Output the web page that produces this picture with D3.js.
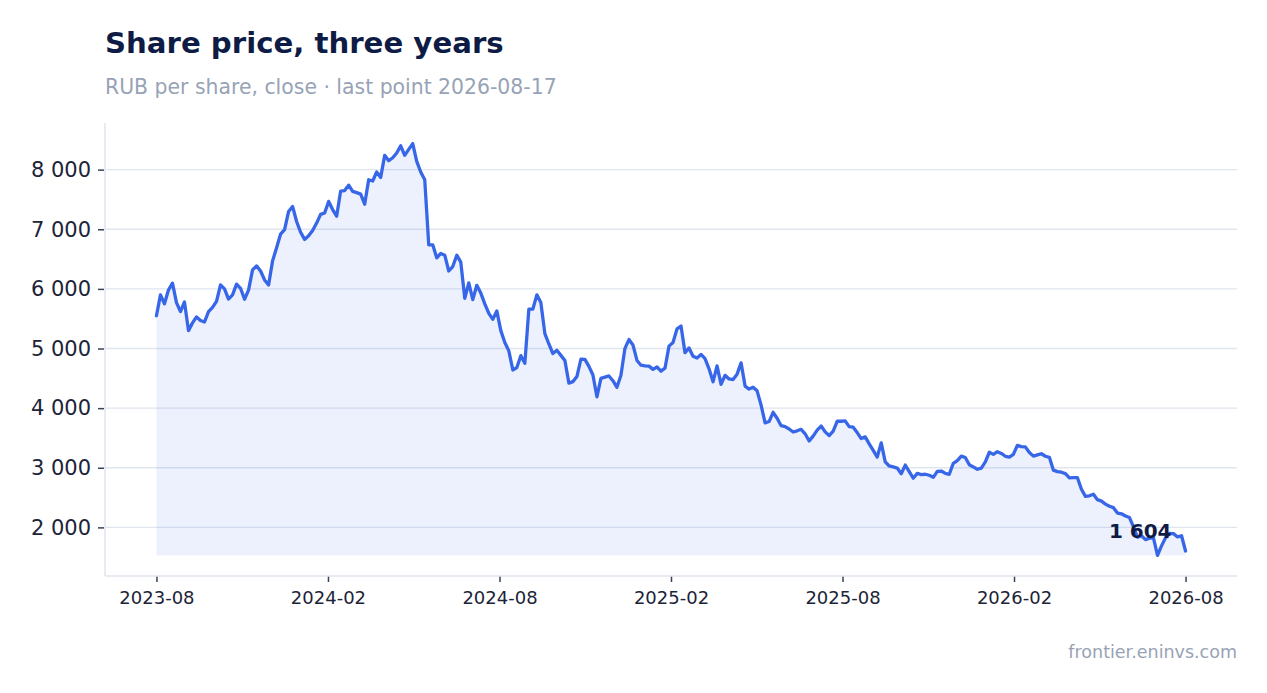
<!DOCTYPE html>
<html>
<head>
<meta charset="utf-8">
<script src="https://cdn.jsdelivr.net/npm/d3@7"></script>
<style>
  body { margin: 0; background: #fff; }
  svg { display: block; font-family: "DejaVu Sans", sans-serif; }
</style>
</head>
<body>
<div id="vis-1"></div>
<script>
// datos
const TITULO = "Share price, three years";
const SUBTITULO = "RUB per share, close · last point 2026-08-17";
const FUENTE = "frontier.eninvs.com";
const TICK_LABELS = ["2023-08", "2024-02", "2024-08", "2025-02", "2025-08", "2026-02", "2026-08"];
const Y_TICKS = [2000, 3000, 4000, 5000, 6000, 7000, 8000];
const PRICES = [
  5550, 5900, 5750, 5980, 6096, 5770, 5620, 5780, 5300, 5430,
  5530, 5470, 5445, 5620, 5690, 5790, 6067, 6000, 5830, 5900,
  6080, 6010, 5826, 5980, 6320, 6386, 6300, 6150, 6067, 6470,
  6690, 6920, 6995, 7299, 7383, 7130, 6950, 6830, 6890, 6980,
  7104, 7250, 7272, 7467, 7330, 7220, 7640, 7650, 7740, 7635,
  7615, 7590, 7420, 7830, 7810, 7960, 7870, 8240, 8150, 8200,
  8280, 8400, 8240, 8340, 8437, 8140, 7960, 7832, 6740, 6739,
  6520, 6595, 6565, 6300, 6375, 6565, 6450, 5843, 6100, 5820,
  6060, 5930, 5750, 5590, 5490, 5630, 5300, 5100, 4960, 4640,
  4680, 4880, 4751, 5660, 5660, 5900, 5770, 5250, 5076, 4915,
  4970, 4885, 4800, 4420, 4445, 4530, 4820, 4818, 4700, 4555,
  4190, 4500, 4520, 4540, 4460, 4350, 4550, 5003, 5150, 5060,
  4800, 4720, 4710, 4705, 4650, 4690, 4620, 4670, 5040, 5100,
  5330, 5378, 4930, 5010, 4870, 4840, 4900, 4830, 4660, 4442,
  4710, 4400, 4550, 4490, 4480, 4570, 4760, 4370, 4320, 4350,
  4290, 4050, 3753, 3775, 3930, 3830, 3705, 3690, 3650, 3600,
  3620, 3645, 3570, 3450, 3530, 3630, 3700, 3602, 3540, 3615,
  3780, 3780, 3787, 3690, 3680, 3590, 3490, 3518, 3400, 3290,
  3180, 3417, 3098, 3030, 3014, 2995, 2900, 3045, 2935, 2825,
  2905, 2885, 2891, 2874, 2840, 2940, 2945, 2905, 2891, 3075,
  3120, 3195, 3171, 3050, 3014, 2975, 2995, 3100, 3260, 3225,
  3270, 3240, 3193, 3180, 3225, 3375, 3355, 3350, 3255, 3195,
  3215, 3235, 3193, 3175, 2960, 2935, 2925, 2902, 2830, 2833,
  2833, 2640, 2521, 2530, 2555, 2465, 2440, 2390, 2355, 2331,
  2240, 2228, 2190, 2165, 2010, 1835, 1860, 1795, 1820, 1820,
  1530, 1690, 1825, 1900, 1895, 1840, 1860, 1604
];

const SVG1 = d3.select("#vis-1").append("svg");

const WIDTH1 = 1267;
const HEIGHT1 = 693;
const margin = {
  top: 123,
  bottom: 117,
  left: 105,
  right: 30,
};

const HEIGHTVIS1 = HEIGHT1 - margin.top - margin.bottom;
const WIDTHVIS1 = WIDTH1 - margin.right - margin.left;

const COLOR_LINEA = "#3767e8";
const COLOR_GRID = "#e0e5ee";
const COLOR_TEXTO = "#1c2438";
const COLOR_GRIS = "#97a3b6";
const COLOR_TITULO = "#0e1c45";

SVG1.attr("width", WIDTH1).attr("height", HEIGHT1);

const fmt = d3.formatLocale({ decimal: ",", thousands: " ", grouping: [3], currency: ["", ""] }).format(",.0f");

// titulos
SVG1.append("text")
  .attr("x", margin.left)
  .attr("y", 53)
  .attr("font-size", 29.2)
  .attr("font-weight", "bold")
  .attr("fill", COLOR_TITULO)
  .text(TITULO);

SVG1.append("text")
  .attr("x", margin.left)
  .attr("y", 94)
  .attr("font-size", 20.4)
  .attr("fill", COLOR_GRIS)
  .text(SUBTITULO);

SVG1.append("text")
  .attr("x", WIDTH1 - margin.right)
  .attr("y", 658)
  .attr("text-anchor", "end")
  .attr("font-size", 17.5)
  .attr("fill", COLOR_GRIS)
  .text(FUENTE);

const grafico1 = SVG1.append("g")
  .attr("id", "grafico1")
  .attr("transform", `translate(${margin.left} ${margin.top})`);

function createChart(data) {
  const n = data.length;
  const padX = (n - 1) * 0.05;
  const minimo = d3.min(data);
  const maximo = d3.max(data);
  const padY = (maximo - minimo) * 0.05;

  const escalaX = d3
    .scaleLinear()
    .domain([-padX, n - 1 + padX])
    .range([0, WIDTHVIS1]);

  const escalaY = d3
    .scaleLinear()
    .domain([minimo - padY, maximo + padY])
    .range([HEIGHTVIS1, 0]);

  // grid horizontal
  grafico1
    .append("g")
    .selectAll("line")
    .data(Y_TICKS)
    .join("line")
    .attr("x1", 0)
    .attr("x2", WIDTHVIS1)
    .attr("y1", (d) => escalaY(d))
    .attr("y2", (d) => escalaY(d))
    .attr("stroke", COLOR_GRID)
    .attr("stroke-width", 1.3);

  // ejes
  const ejeY = d3.axisLeft(escalaY)
    .tickValues(Y_TICKS)
    .tickFormat(fmt)
    .tickSize(6)
    .tickSizeOuter(0)
    .tickPadding(8);

  const posTicks = TICK_LABELS.map((_, i) => (i * (n - 1)) / (TICK_LABELS.length - 1));
  const ejeX = d3.axisBottom(escalaX)
    .tickValues(posTicks)
    .tickFormat((d, i) => TICK_LABELS[i])
    .tickSize(6)
    .tickSizeOuter(0)
    .tickPadding(9);

  const gY = grafico1.append("g").call(ejeY);
  gY.select(".domain").remove();
  gY.selectAll("line").attr("stroke", "#3a4255").attr("stroke-width", 1.5).attr("transform", "translate(-1,0)");
  gY.selectAll("text").attr("font-size", 21).attr("fill", COLOR_TEXTO).attr("font-family", "DejaVu Sans");

  const gX = grafico1.append("g")
    .attr("transform", `translate(0, ${HEIGHTVIS1})`)
    .call(ejeX);
  gX.select(".domain").remove();
  gX.selectAll("line").attr("stroke", "#3a4255").attr("stroke-width", 1.5);
  gX.selectAll("text").attr("font-size", 18).attr("fill", COLOR_TEXTO).attr("font-family", "DejaVu Sans");

  // lineas de borde
  grafico1.append("line")
    .attr("x1", 0).attr("x2", 0)
    .attr("y1", 0).attr("y2", HEIGHTVIS1)
    .attr("stroke", COLOR_GRID)
    .attr("stroke-width", 1.5);
  grafico1.append("line")
    .attr("x1", 0).attr("x2", WIDTHVIS1)
    .attr("y1", HEIGHTVIS1).attr("y2", HEIGHTVIS1)
    .attr("stroke", COLOR_GRID)
    .attr("stroke-width", 1.5);

  // area y linea
  const area = d3.area()
    .x((d, i) => escalaX(i))
    .y0(escalaY(minimo))
    .y1((d) => escalaY(d));

  const linea = d3.line()
    .x((d, i) => escalaX(i))
    .y((d) => escalaY(d));

  grafico1.append("path")
    .datum(data)
    .attr("d", area)
    .attr("fill", COLOR_LINEA)
    .attr("fill-opacity", 0.09);

  grafico1.append("path")
    .datum(data)
    .attr("d", linea)
    .attr("fill", "none")
    .attr("stroke", COLOR_LINEA)
    .attr("stroke-width", 3.3)
    .attr("stroke-linejoin", "round")
    .attr("stroke-linecap", "round");

  // etiqueta ultimo valor
  const ultimo = data[n - 1];
  grafico1.append("text")
    .attr("x", escalaX(n - 1) - 14)
    .attr("y", escalaY(ultimo) - 13)
    .attr("text-anchor", "end")
    .attr("font-size", 20)
    .attr("font-weight", "bold")
    .attr("fill", COLOR_TITULO)
    .text(fmt(ultimo));
}

createChart(PRICES);
</script>
</body>
</html>
